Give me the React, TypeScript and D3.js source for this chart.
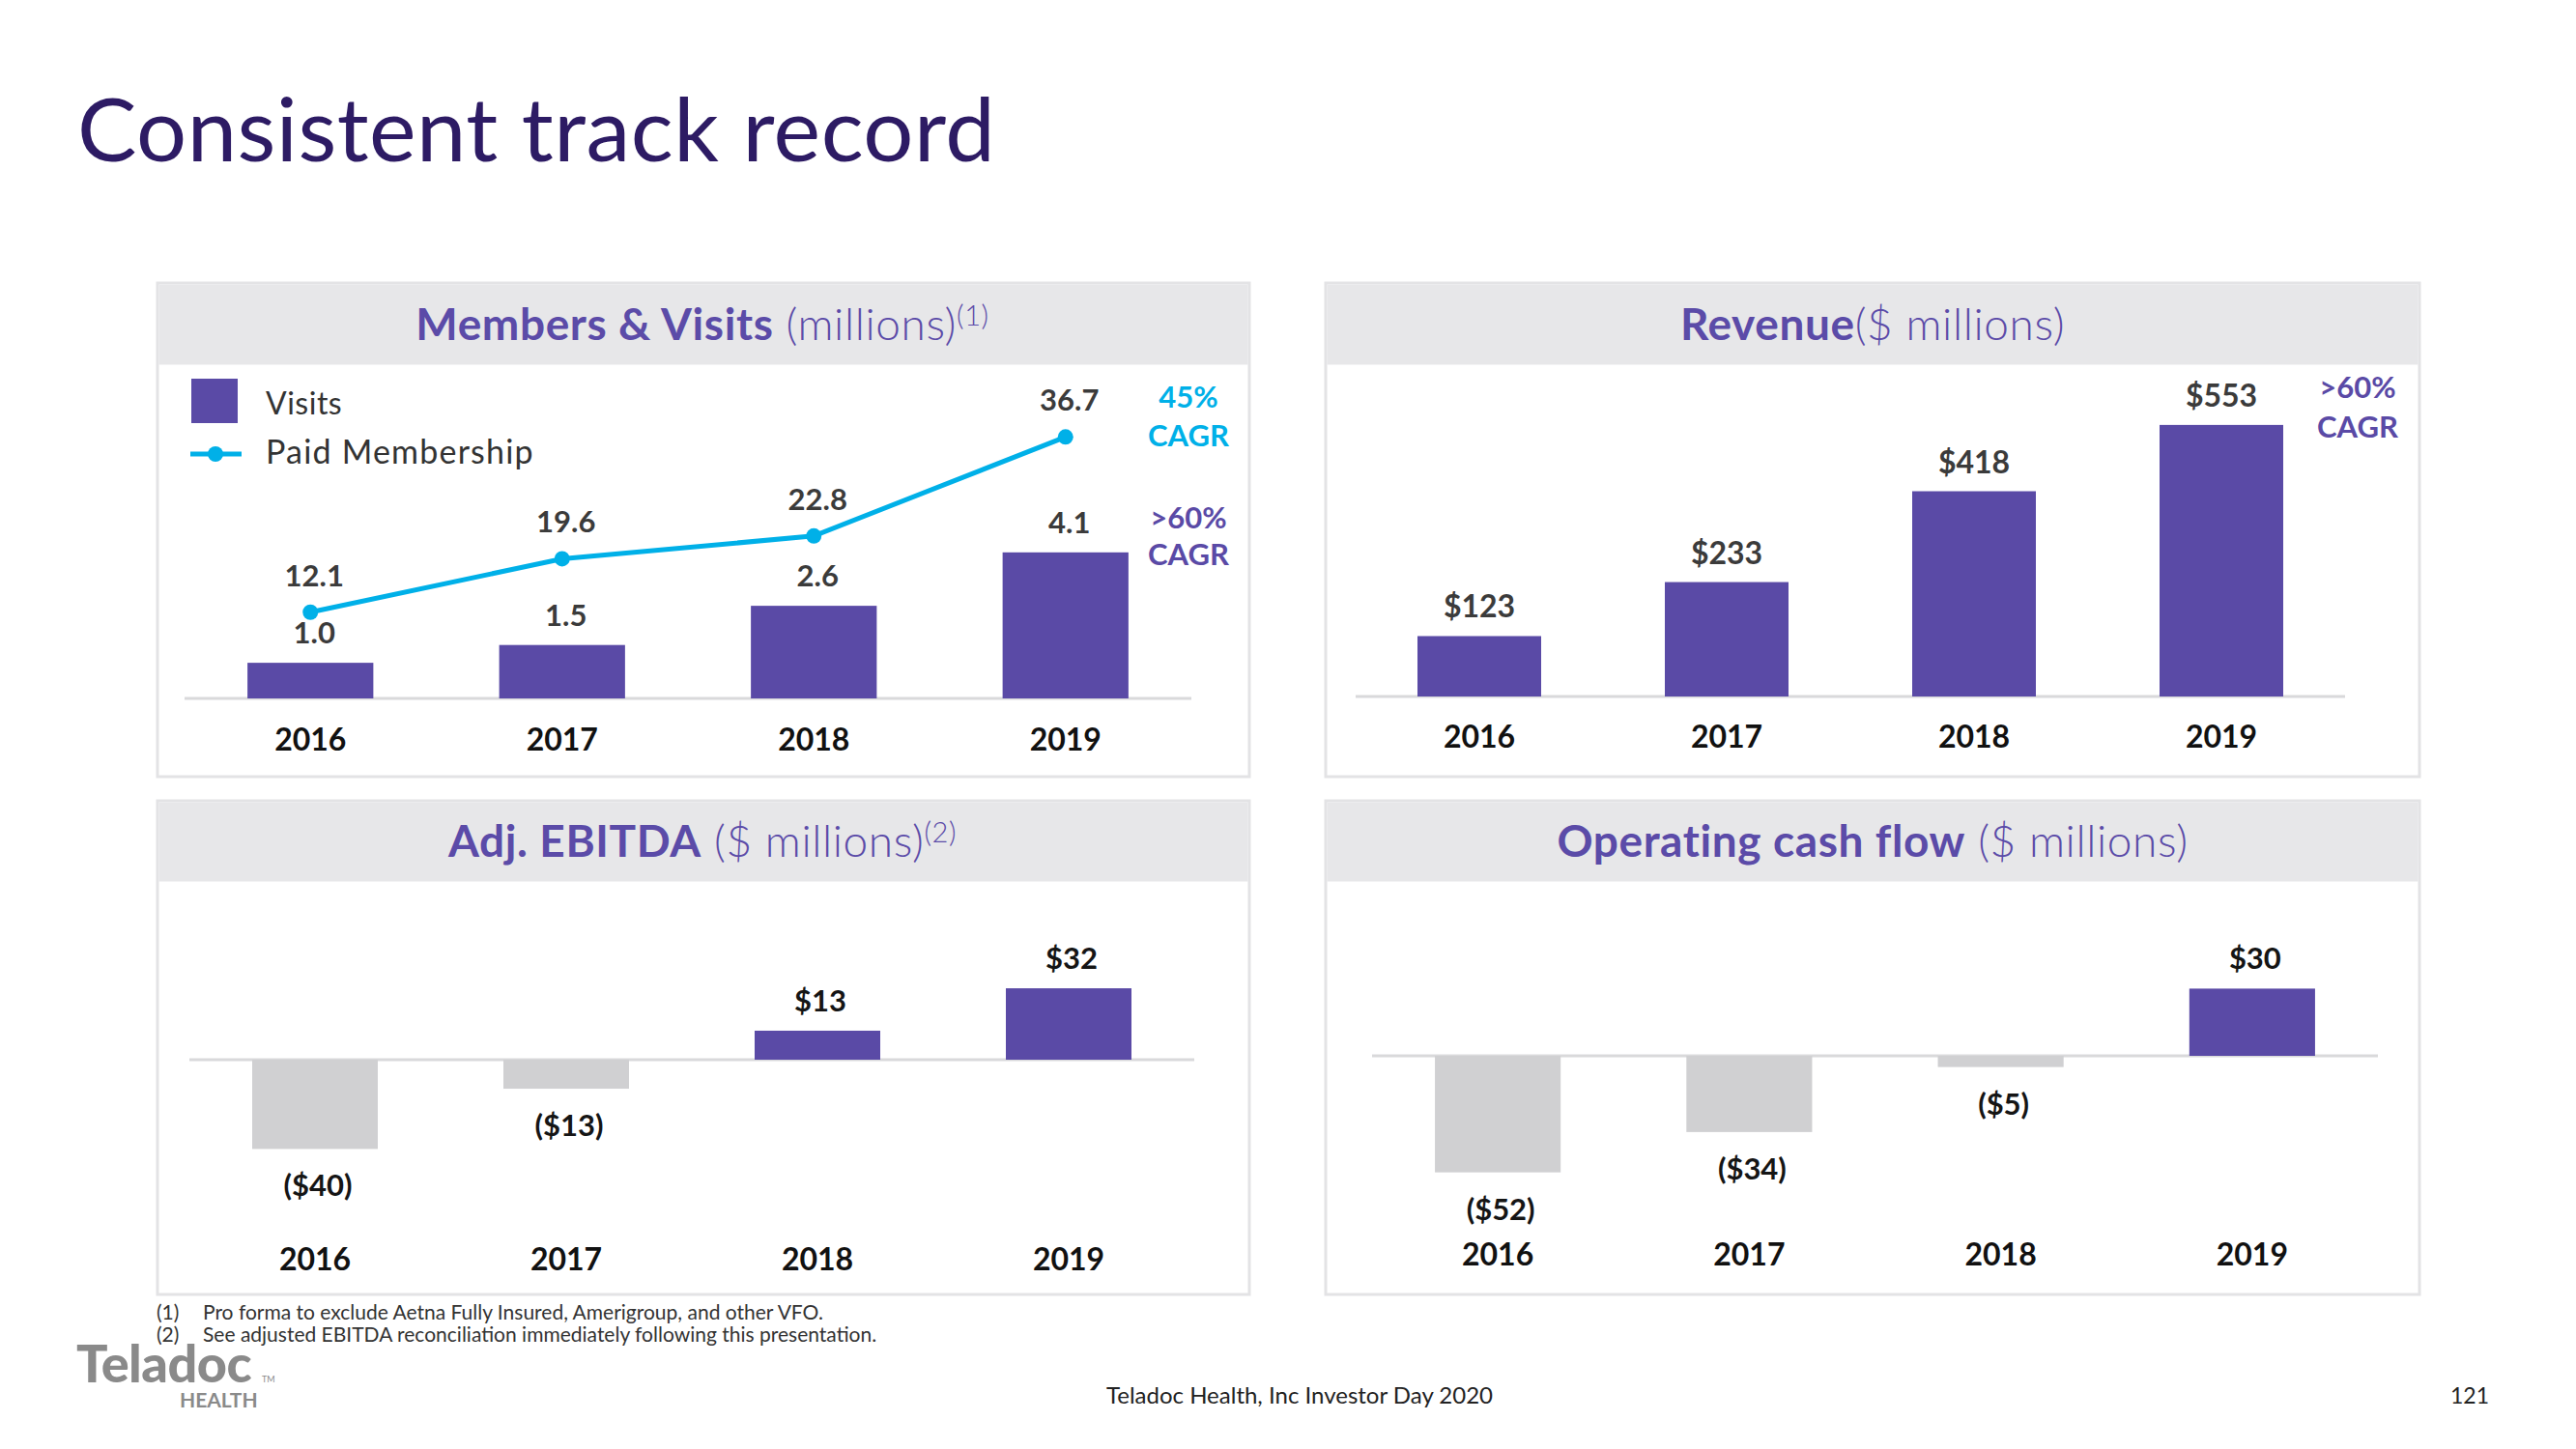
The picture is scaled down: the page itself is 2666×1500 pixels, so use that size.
import React from "react";
import * as d3 from "d3";

const years = ["2016", "2017", "2018", "2019"];
const visits = [1.0, 1.5, 2.6, 4.1];
const paidMembership = [12.1, 19.6, 22.8, 36.7];
const revenue = [123, 233, 418, 553];
const adjEbitda = [-40, -13, 13, 32];
const operatingCashFlow = [-52, -34, -5, 30];

const visitsLabels = ["1.0", "1.5", "2.6", "4.1"];
const memberLabels = ["12.1", "19.6", "22.8", "36.7"];
const fmtMoney = (v: number) => (v < 0 ? `($${Math.abs(v)})` : `$${v}`);

const FONT = "Lato, 'Open Sans', sans-serif";
const PURPLE = "#5a4aa6";
const HEAD_PURPLE = "#5b4ba8";
const CYAN = "#00b0e8";
const NEG = "#d0d0d2";
const LABEL = "#3b3b3b";

function Panel({ x, y, w, h, hh, children }: any) {
  return (
    <g>
      <rect x={x} y={y} width={w} height={h} fill="#fff" stroke="#e3e3e5" strokeWidth={3} />
      <rect x={x + 1.5} y={y + 1.5} width={w - 3} height={hh} fill="#e7e7e9" />
      {children}
    </g>
  );
}

function Header({ cx, y, bold, rest, sup }: any) {
  return (
    <text x={cx} y={y} textAnchor="middle" fontFamily={FONT} fontSize={46} letterSpacing={0.6} fill={HEAD_PURPLE}>
      <tspan fontWeight={700}>{bold}</tspan>
      <tspan fontWeight={300}>{rest}</tspan>
      {sup ? (
        <tspan fontWeight={300} fontSize={29} dy={-15}>
          {sup}
        </tspan>
      ) : null}
    </text>
  );
}

function YearAxis({ xs, y }: any) {
  return (
    <g>
      {years.map((yr) => (
        <text key={yr} x={xs(yr)! + xs.bandwidth() / 2} y={y} textAnchor="middle" fontFamily={FONT} fontWeight={700} fontSize={32} fill="#111">
          {yr}
        </text>
      ))}
    </g>
  );
}

export default function App() {
  // Panel 1: Members & Visits
  const x1 = d3.scaleBand<string>().domain(years).range([191, 1233]).paddingInner(0.5).paddingOuter(0.25);
  const y1Bar = d3.scaleLinear().domain([0, 8]).range([723, 428]);
  const y1Line = d3.scaleLinear().domain([0, 40]).range([723, 428]);
  const linePath = d3
    .line<number>()
    .x((_, i) => x1(years[i])! + x1.bandwidth() / 2)
    .y((d) => y1Line(d))(paidMembership);

  // Panel 2: Revenue
  const x2 = d3.scaleBand<string>().domain(years).range([1403, 2427]).paddingInner(0.5).paddingOuter(0.25);
  const y2 = d3.scaleLinear().domain([0, 600]).range([721, 416]);

  // Panel 3: Adj. EBITDA
  const x3 = d3.scaleBand<string>().domain(years).range([196, 1236]).paddingInner(0.5).paddingOuter(0.25);
  const y3 = d3.scaleLinear().domain([-60, 60]).range([1097 + 138.6, 1097 - 138.6]);

  // Panel 4: Operating cash flow
  const x4 = d3.scaleBand<string>().domain(years).range([1420, 2461]).paddingInner(0.5).paddingOuter(0.25);
  const y4 = d3.scaleLinear().domain([-60, 60]).range([1093 + 139.2, 1093 - 139.2]);

  const signedBars = (vals: number[], xs: any, ys: any, keyp: string) =>
    vals.map((v, i) => {
      const cx = xs(years[i])! + xs.bandwidth() / 2;
      const top = ys(Math.max(0, v));
      const bot = ys(Math.min(0, v));
      return (
        <g key={keyp + i}>
          <rect x={xs(years[i])} y={top} width={xs.bandwidth()} height={bot - top} fill={v < 0 ? NEG : PURPLE} />
          <text
            x={cx + 3}
            y={v < 0 ? bot + 49 : top - 20}
            textAnchor="middle"
            fontFamily={FONT}
            fontWeight={700}
            fontSize={31}
            fill="#151515"
          >
            {fmtMoney(v)}
          </text>
        </g>
      );
    });

  return (
    <svg width={2666} height={1500} style={{ position: "absolute", left: 0, top: 0, background: "#fff" }}>
      <rect x={0} y={0} width={2666} height={1500} fill="#fff" />
      <text x={80} y={167} fontFamily={FONT} fontWeight={400} fontSize={92} letterSpacing={0.5} fill="#2d1b64">
        Consistent track record
      </text>

      {/* Panel 1 */}
      <Panel x={163} y={293} w={1130} h={511} hh={83}>
        <Header cx={727} y={352} bold="Members & Visits" rest=" (millions)" sup="(1)" />
        <line x1={191} x2={1233} y1={y1Bar(0)} y2={y1Bar(0)} stroke="#d9d9db" strokeWidth={3} />
        {visits.map((v, i) => (
          <g key={"v" + i}>
            <rect x={x1(years[i])} y={y1Bar(v)} width={x1.bandwidth()} height={y1Bar(0) - y1Bar(v)} fill={PURPLE} />
            <text x={x1(years[i])! + x1.bandwidth() / 2 + 4} y={y1Bar(v) - 20} textAnchor="middle" fontFamily={FONT} fontWeight={700} fontSize={31} fill={LABEL}>
              {visitsLabels[i]}
            </text>
          </g>
        ))}
        <path d={linePath!} fill="none" stroke={CYAN} strokeWidth={5} />
        {paidMembership.map((v, i) => (
          <g key={"m" + i}>
            <circle cx={x1(years[i])! + x1.bandwidth() / 2} cy={y1Line(v)} r={8} fill={CYAN} />
            <text x={x1(years[i])! + x1.bandwidth() / 2 + 4} y={y1Line(v) - 27} textAnchor="middle" fontFamily={FONT} fontWeight={700} fontSize={31} fill={LABEL}>
              {memberLabels[i]}
            </text>
          </g>
        ))}
        <YearAxis xs={x1} y={777} />
        {/* legend */}
        <rect x={198} y={392} width={48} height={46} fill={PURPLE} />
        <text x={275} y={429} fontFamily={FONT} fontSize={32} letterSpacing={0.5} fill="#333">Visits</text>
        <line x1={197} x2={250} y1={470} y2={470} stroke={CYAN} strokeWidth={5} />
        <circle cx={223} cy={470} r={8} fill={CYAN} />
        <text x={275} y={480} fontFamily={FONT} fontSize={34} letterSpacing={1.2} fill="#333">Paid Membership</text>
        {/* CAGR */}
        <text x={1230} y={422} textAnchor="middle" fontFamily={FONT} fontWeight={700} fontSize={31} fill={CYAN}>45%</text>
        <text x={1230} y={462} textAnchor="middle" fontFamily={FONT} fontWeight={700} fontSize={31} fill={CYAN}>CAGR</text>
        <text x={1230} y={547} textAnchor="middle" fontFamily={FONT} fontWeight={700} fontSize={31} fill={PURPLE}>&gt;60%</text>
        <text x={1230} y={585} textAnchor="middle" fontFamily={FONT} fontWeight={700} fontSize={31} fill={PURPLE}>CAGR</text>
      </Panel>

      {/* Panel 2 */}
      <Panel x={1372} y={293} w={1132} h={511} hh={83}>
        <Header cx={1938} y={352} bold="Revenue" rest="($ millions)" />
        <line x1={1403} x2={2427} y1={y2(0)} y2={y2(0)} stroke="#d9d9db" strokeWidth={3} />
        {revenue.map((v, i) => (
          <g key={"r" + i}>
            <rect x={x2(years[i])} y={y2(v)} width={x2.bandwidth()} height={y2(0) - y2(v)} fill={PURPLE} />
            <text x={x2(years[i])! + x2.bandwidth() / 2} y={y2(v) - 19} textAnchor="middle" fontFamily={FONT} fontWeight={700} fontSize={32} fill={LABEL}>
              {fmtMoney(v)}
            </text>
          </g>
        ))}
        <YearAxis xs={x2} y={774} />
        <text x={2440} y={412} textAnchor="middle" fontFamily={FONT} fontWeight={700} fontSize={31} fill={PURPLE}>&gt;60%</text>
        <text x={2440} y={453} textAnchor="middle" fontFamily={FONT} fontWeight={700} fontSize={31} fill={PURPLE}>CAGR</text>
      </Panel>

      {/* Panel 3 */}
      <Panel x={163} y={829} w={1130} h={511} hh={82}>
        <Header cx={727} y={887} bold="Adj. EBITDA" rest=" ($ millions)" sup="(2)" />
        <line x1={196} x2={1236} y1={y3(0)} y2={y3(0)} stroke="#d9d9db" strokeWidth={3} />
        {signedBars(adjEbitda, x3, y3, "e")}
        <YearAxis xs={x3} y={1315} />
      </Panel>

      {/* Panel 4 */}
      <Panel x={1372} y={829} w={1132} h={511} hh={82}>
        <Header cx={1938} y={887} bold="Operating cash flow" rest=" ($ millions)" />
        <line x1={1420} x2={2461} y1={y4(0)} y2={y4(0)} stroke="#d9d9db" strokeWidth={3} />
        {signedBars(operatingCashFlow, x4, y4, "o")}
        <YearAxis xs={x4} y={1310} />
      </Panel>

      {/* Footnotes */}
      <g fontFamily={FONT} fontSize={21} fill="#333">
        <text x={162} y={1366}>(1)</text>
        <text x={210} y={1366}>Pro forma to exclude Aetna Fully Insured, Amerigroup, and other VFO.</text>
        <text x={162} y={1389}>(2)</text>
        <text x={210} y={1389}>See adjusted EBITDA reconciliation immediately following this presentation.</text>
      </g>

      {/* Logo */}
      <text x={79} y={1431} fontFamily={FONT} fontWeight={900} fontSize={54} letterSpacing={-0.5} fill="#8a8a8a">Teladoc</text>
      <text x={271} y={1431} fontFamily={FONT} fontSize={9} fill="#8a8a8a">TM</text>
      <text x={186} y={1457} fontFamily={FONT} fontWeight={700} fontSize={21} fill="#8a8a8a">HEALTH</text>

      {/* Footer */}
      <text x={1145} y={1453} fontFamily={FONT} fontSize={24} fill="#222">Teladoc Health, Inc Investor Day 2020</text>
      <text x={2576} y={1453} textAnchor="end" fontFamily={FONT} fontSize={23} fill="#222">121</text>
    </svg>
  );
}
